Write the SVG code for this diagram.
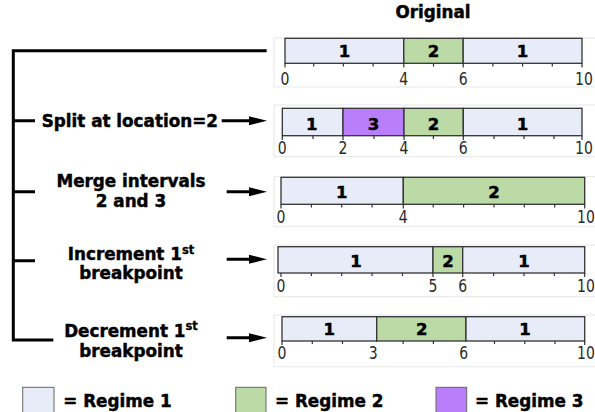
<svg xmlns="http://www.w3.org/2000/svg" width="595" height="412" viewBox="0 0 595 412">
<style>
.t{font-family:"DejaVu Sans","Liberation Sans",sans-serif;font-weight:bold;font-size:16.8px;fill:#000;stroke:#000;stroke-width:0.45}
.bl{font-family:"DejaVu Sans","Liberation Sans",sans-serif;font-weight:bold;font-size:16.5px;fill:#000;stroke:#000;stroke-width:0.5;text-anchor:middle}
.tk{font-family:"DejaVu Sans","Liberation Sans",sans-serif;font-size:14px;fill:#2a2a2a;text-anchor:middle}
.r1{fill:#e8ecf8}
.r2{fill:#bbdaa6}
.r3{fill:#b97ef9}
.seg{stroke:#333;stroke-width:1.3}
.frame{fill:none;stroke:#e8e8e8;stroke-width:1}
.ticks{fill:none;stroke:#333;stroke-width:1.2}
.br{fill:none;stroke:#000;stroke-width:3}
.ah{fill:#000}
.lg{stroke:#666;stroke-width:1}
</style>
<rect width="595" height="412" fill="#fff"/>

<g id="title"><text class="t" x="433" y="18.3" text-anchor="middle">Original</text></g>

<g id="chart-original">
<rect class="frame" x="274" y="38" width="330" height="49"/>
<rect class="r1 seg" x="285" y="38.3" width="118.8" height="25"/>
<rect class="r2 seg" x="403.8" y="38.3" width="59.4" height="25"/>
<rect class="r1 seg" x="463.2" y="38.3" width="118.8" height="25"/>
<text class="bl" x="344.4" y="56.9">1</text>
<text class="bl" x="433.5" y="56.9">2</text>
<text class="bl" x="522.6" y="56.9">1</text>
<path class="ticks" d="M285,63.3V67.5M313.7,63.3V66.5M343.4,63.3V66.5M373.1,63.3V66.5M403.8,63.3V67.5M433.5,63.3V66.5M463.2,63.3V67.5M492.9,63.3V66.5M522.6,63.3V66.5M552.3,63.3V66.5M582,63.3V67.5"/>
<text class="tk" transform="translate(285,84.5) scale(1,1.25)">0</text>
<text class="tk" transform="translate(403.8,84.5) scale(1,1.25)">4</text>
<text class="tk" transform="translate(463.2,84.5) scale(1,1.25)">6</text>
<text class="tk" transform="translate(584,84.5) scale(1,1.25)">10</text>
</g>

<g id="chart-split">
<rect class="frame" x="274" y="105" width="330" height="51.7"/>
<rect class="r1 seg" x="282.3" y="108.3" width="60.7" height="27.4"/>
<rect class="r3 seg" x="343" y="108.3" width="61" height="27.4"/>
<rect class="r2 seg" x="404" y="108.3" width="59.3" height="27.4"/>
<rect class="r1 seg" x="463.3" y="108.3" width="118.7" height="27.4"/>
<text class="bl" x="311.7" y="129.8">1</text>
<text class="bl" x="373.4" y="129.8">3</text>
<text class="bl" x="433.6" y="129.8">2</text>
<text class="bl" x="522.6" y="129.8">1</text>
<path class="ticks" d="M282.3,135.7V140M313,135.7V139M343,135.7V140M374,135.7V139M404,135.7V140M433.4,135.7V139M463.3,135.7V140M494,135.7V139M524,135.7V139M554,135.7V139M582,135.7V140"/>
<text class="tk" transform="translate(282.3,154.3) scale(1,1.25)">0</text>
<text class="tk" transform="translate(343,154.3) scale(1,1.25)">2</text>
<text class="tk" transform="translate(404,154.3) scale(1,1.25)">4</text>
<text class="tk" transform="translate(463.3,154.3) scale(1,1.25)">6</text>
<text class="tk" transform="translate(584,154.3) scale(1,1.25)">10</text>
</g>

<g id="chart-merge">
<rect class="frame" x="274" y="176.7" width="330" height="50"/>
<rect class="r1 seg" x="281" y="177.3" width="122.3" height="27"/>
<rect class="r2 seg" x="403.3" y="177.3" width="181.4" height="27"/>
<text class="bl" x="341.7" y="197.9">1</text>
<text class="bl" x="494" y="197.9">2</text>
<path class="ticks" d="M281,204.3V208.5M311.4,204.3V207.5M341.7,204.3V207.5M372.1,204.3V207.5M403.3,204.3V208.5M433.2,204.3V207.5M463.6,204.3V207.5M494,204.3V207.5M524.3,204.3V207.5M554.7,204.3V207.5M584.7,204.3V208.5"/>
<text class="tk" transform="translate(281,223) scale(1,1.25)">0</text>
<text class="tk" transform="translate(403.3,223) scale(1,1.25)">4</text>
<text class="tk" transform="translate(586,223) scale(1,1.25)">10</text>
</g>

<g id="chart-increment">
<rect class="frame" x="274" y="245" width="330" height="51.7"/>
<rect class="r1 seg" x="278" y="246.7" width="155" height="26.3"/>
<rect class="r2 seg" x="433" y="246.7" width="29.7" height="26.3"/>
<rect class="r1 seg" x="462.7" y="246.7" width="122" height="26.3"/>
<text class="bl" x="356" y="266.9">1</text>
<text class="bl" x="448" y="266.9">2</text>
<text class="bl" x="524" y="266.9">1</text>
<path class="ticks" d="M281,273V277M311.4,273V276M341.7,273V276M372.1,273V276M402.5,273V276M433,273V277M462.7,273V277M493.6,273V276M524,273V276M554.3,273V276M584.7,273V277"/>
<text class="tk" transform="translate(281,291.7) scale(1,1.25)">0</text>
<text class="tk" transform="translate(433,291.7) scale(1,1.25)">5</text>
<text class="tk" transform="translate(462.7,291.7) scale(1,1.25)">6</text>
<text class="tk" transform="translate(586,291.7) scale(1,1.25)">10</text>
</g>

<g id="chart-decrement">
<rect class="frame" x="274" y="315" width="330" height="51.7"/>
<rect class="r1 seg" x="282" y="316.7" width="94.7" height="24.3"/>
<rect class="r2 seg" x="376.7" y="316.7" width="89.3" height="24.3"/>
<rect class="r1 seg" x="466" y="316.7" width="118.7" height="24.3"/>
<text class="bl" x="329.3" y="335.2">1</text>
<text class="bl" x="421.7" y="335.2">2</text>
<text class="bl" x="525" y="335.2">1</text>
<path class="ticks" d="M282,341V345M312.3,341V344M342.5,341V344M403.1,341V344M433.4,341V344M494.5,341V344M524.8,341V344M555,341V344M584.7,341V345"/>
<text class="tk" transform="translate(282,359.3) scale(1,1.25)">0</text>
<text class="tk" transform="translate(373.3,359.3) scale(1,1.25)">3</text>
<text class="tk" transform="translate(463.6,359.3) scale(1,1.25)">6</text>
<text class="tk" transform="translate(586,359.3) scale(1,1.25)">10</text>
</g>

<g id="label-split"><text class="t" x="41.7" y="126.7">Split at location=2</text></g>
<g id="label-merge"><text class="t" x="131" y="186.7" text-anchor="middle">Merge intervals</text><text class="t" x="131" y="206.7" text-anchor="middle">2 and 3</text></g>
<g id="label-increment"><text class="t" x="131" y="260" text-anchor="middle">Increment 1<tspan font-size="11.5" dy="-6.5" stroke-width="0.3">st</tspan></text><text class="t" x="131" y="279" text-anchor="middle">breakpoint</text></g>
<g id="label-decrement"><text class="t" x="131" y="336.7" text-anchor="middle">Decrement 1<tspan font-size="11.5" dy="-6.5" stroke-width="0.3">st</tspan></text><text class="t" x="131" y="356.7" text-anchor="middle">breakpoint</text></g>

<g id="connectors">
<path class="br" d="M266.7,50.7H13.3V340H53.3M13.3,120.7H35M13.3,191.7H35M13.3,260.7H35"/>
<path class="br" d="M221.7,120.7H252M226.7,191.7H252M226.7,259.3H252M226.7,337.7H252"/>
<polygon class="ah" points="249,116.2 267,120.7 249,125.2"/>
<polygon class="ah" points="249,187.2 267,191.7 249,196.2"/>
<polygon class="ah" points="249,254.8 267,259.3 249,263.8"/>
<polygon class="ah" points="249,333.2 267,337.7 249,342.2"/>
</g>

<g id="legend-1"><rect class="r1 lg" x="22.7" y="387.3" width="31.3" height="30"/><text class="t" x="63.3" y="407.3">= Regime 1</text></g>
<g id="legend-2"><rect class="r2 lg" x="235.7" y="387.3" width="30.3" height="30"/><text class="t" x="275" y="407.3">= Regime 2</text></g>
<g id="legend-3"><rect class="r3 lg" x="436" y="387.3" width="30.7" height="30"/><text class="t" x="475" y="407.3">= Regime 3</text></g>
</svg>
